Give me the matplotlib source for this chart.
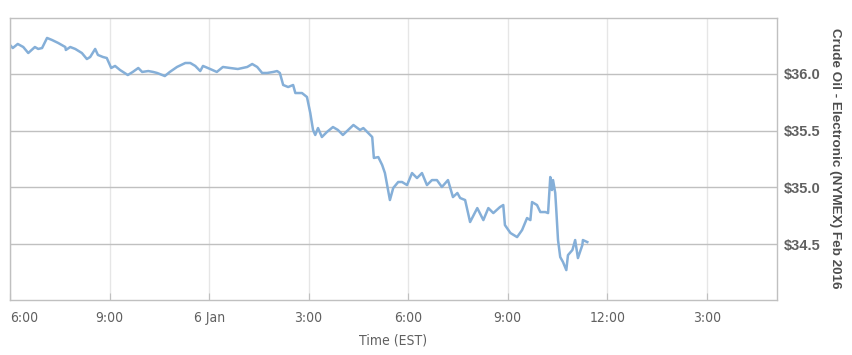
import matplotlib
matplotlib.use("Agg")
import matplotlib.pyplot as plt
import pandas as pd

# ---- data (Jan 5 18:00 -> Jan 6, EST) ----
times = [
    "18:00", "18:05", "18:14", "18:24", "18:33", "18:45", "18:51", "18:58", "19:07", "19:16",
    "19:27", "19:40", "19:41", "19:49", "19:58", "20:10", "20:19", "20:25", "20:34", "20:39",
    "20:48", "20:55", "21:03", "21:10", "21:19", "21:33", "21:42", "21:52", "21:59", "22:10",
    "22:19", "22:26", "22:40", "22:49", "23:02", "23:17", "23:26", "23:35", "23:44", "23:49",
    "00:02", "00:14", "00:25", "00:38", "00:52", "01:09", "01:18", "01:27", "01:36", "01:45",
    "01:56", "02:03", "02:08", "02:14", "02:23", "02:32", "02:36", "02:48", "02:57", "03:03",
    "03:08", "03:12", "03:17", "03:24", "03:33", "03:44", "03:53", "04:02", "04:21", "04:33",
    "04:39", "04:55", "04:58", "05:06", "05:13", "05:18", "05:27", "05:33", "05:42", "05:49",
    "05:58", "06:07", "06:16", "06:25", "06:34", "06:43", "06:52", "07:01", "07:12", "07:21",
    "07:29", "07:34", "07:43", "07:52", "08:05", "08:16", "08:25", "08:34", "08:46", "08:52",
    "08:55", "09:05", "09:17", "09:26", "09:35", "09:41", "09:44", "09:53", "09:59", "10:08",
    "10:13", "10:17", "10:20", "10:22", "10:26", "10:28", "10:31", "10:35", "10:40", "10:46",
    "10:49", "10:57", "11:02", "11:07", "11:15", "11:16", "11:24",
]
prices = [
    36.256, 36.229, 36.265, 36.238, 36.185, 36.238, 36.221, 36.229, 36.318, 36.300,
    36.274, 36.238, 36.212, 36.238, 36.221, 36.185, 36.132, 36.150, 36.221, 36.168,
    36.150, 36.141, 36.053, 36.071, 36.035, 35.991, 36.018, 36.053, 36.018, 36.026,
    36.018, 36.009, 35.982, 36.018, 36.062, 36.097, 36.097, 36.071, 36.026, 36.071,
    36.044, 36.018, 36.062, 36.053, 36.044, 36.062, 36.088, 36.062, 36.009, 36.009,
    36.018, 36.026, 36.009, 35.903, 35.885, 35.903, 35.832, 35.832, 35.797, 35.656,
    35.506, 35.462, 35.523, 35.444, 35.488, 35.532, 35.506, 35.462, 35.550, 35.506,
    35.523, 35.444, 35.259, 35.267, 35.197, 35.126, 34.888, 34.994, 35.047, 35.047,
    35.020, 35.126, 35.082, 35.126, 35.020, 35.064, 35.064, 35.003, 35.064, 34.914,
    34.950, 34.906, 34.888, 34.694, 34.817, 34.711, 34.817, 34.773, 34.826, 34.844,
    34.667, 34.597, 34.561, 34.623, 34.729, 34.711, 34.870, 34.844, 34.782, 34.782,
    34.773, 35.091, 34.976, 35.064, 34.950, 34.790, 34.535, 34.385, 34.341, 34.270,
    34.402, 34.447, 34.535, 34.376, 34.491, 34.535, 34.517,
]
tick_times = ["2016-01-05 18:00", "2016-01-05 21:00", "2016-01-06 00:00", "2016-01-06 03:00",
              "2016-01-06 06:00", "2016-01-06 09:00", "2016-01-06 12:00", "2016-01-06 15:00"]
tick_labels = ["6:00", "9:00", "6 Jan", "3:00", "6:00", "9:00", "12:00", "3:00"]
y_ticks = [34.5, 35.0, 35.5, 36.0]
y_tick_labels = ["$34.5", "$35.0", "$35.5", "$36.0"]

# build timestamps with day rollover
stamps = []
day = pd.Timestamp("2016-01-05")
prev = None
for t in times:
    h, m = map(int, t.split(":"))
    if prev is not None and h * 60 + m < prev:
        day = day + pd.Timedelta(days=1)
    prev = h * 60 + m
    stamps.append(day + pd.Timedelta(hours=h, minutes=m))

W, H = 852, 355
fig = plt.figure(figsize=(W / 100, H / 100), dpi=100)
ax = fig.add_axes([10 / W, (H - 300) / H, 767 / W, 282 / H])

ax.plot(stamps, prices, color="#85afd8", lw=1.8, solid_joinstyle="round")

ax.set_xlim(pd.Timestamp("2016-01-05 18:00"), pd.Timestamp("2016-01-06 17:07"))
ax.set_ylim(34.006, 36.494)

ax.set_xticks([pd.Timestamp(t) for t in tick_times])
ax.set_xticklabels(tick_labels)
ax.set_yticks(y_ticks)
ax.set_yticklabels(y_tick_labels)

ax.yaxis.tick_right()
ax.tick_params(axis="y", length=0, pad=5, labelsize=10.5, labelcolor="#606060")
ax.tick_params(axis="x", length=5, direction="in", color="#c0c0c0", pad=8,
               labelsize=10, labelcolor="#606060")
for lab in ax.get_yticklabels():
    lab.set_fontweight("bold")
    lab.set_family("Liberation Sans")
for lab in ax.get_xticklabels():
    lab.set_family("DejaVu Sans")
    lab.set_fontstretch("condensed")
ax.get_xticklabels()[0].set_horizontalalignment("left")

ax.grid(axis="y", color="#c0c0c0", lw=1)
ax.grid(axis="x", color="#e6e6e6", lw=1)
ax.set_axisbelow(True)
for s in ax.spines.values():
    s.set_color("#c0c0c0")
    s.set_linewidth(1)

ax.set_xlabel("Time (EST)", color="#606060", fontsize=10, family="DejaVu Sans",
              fontstretch="condensed", labelpad=6)
fig.text(835 / W, 1 - 158 / H, "Crude Oil - Electronic (NYMEX) Feb 2016", rotation=270,
         ha="center", va="center", color="#4d4d4d", fontsize=9.7, fontweight="bold",
         family="Liberation Sans")

fig.savefig("out.png", dpi=100)
